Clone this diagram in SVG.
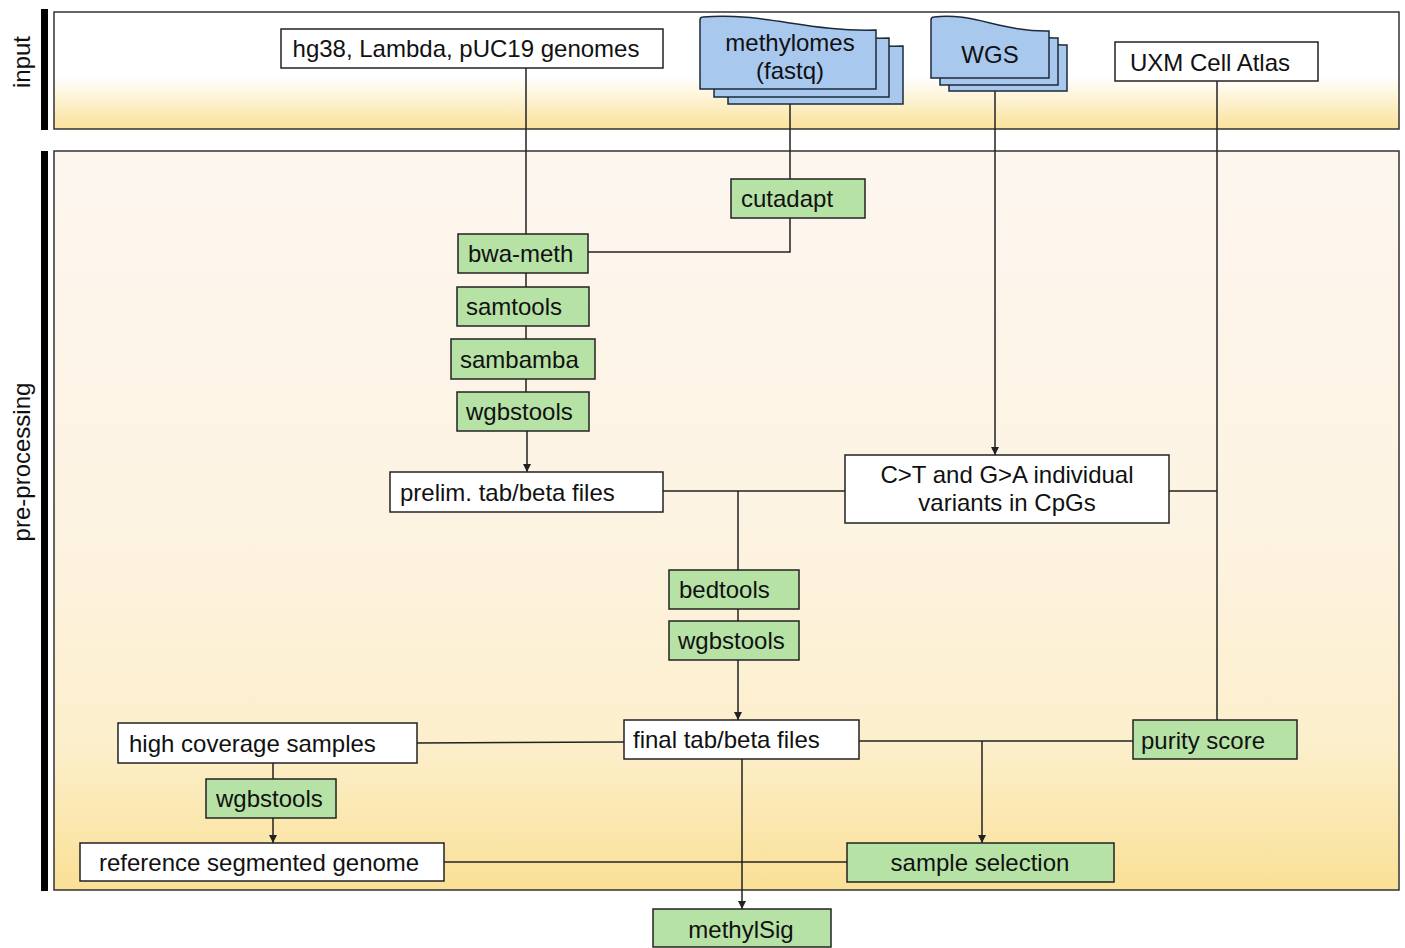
<svg xmlns="http://www.w3.org/2000/svg" width="1405" height="948" viewBox="0 0 1405 948">
<defs>
<linearGradient id="gIn" x1="0" y1="0" x2="0" y2="1">
<stop offset="0" stop-color="#FFFFFF"/>
<stop offset="0.55" stop-color="#FFFFFF"/>
<stop offset="1" stop-color="#FAE29A"/>
</linearGradient>
<linearGradient id="gPre" x1="0" y1="0" x2="0" y2="1">
<stop offset="0" stop-color="#FDF6EF"/>
<stop offset="0.5" stop-color="#FDF3E2"/>
<stop offset="0.8" stop-color="#FCEFCC"/>
<stop offset="1" stop-color="#FAE096"/>
</linearGradient>
<marker id="arr" viewBox="0 0 10 10" refX="10" refY="5" markerWidth="8" markerHeight="8" markerUnits="userSpaceOnUse" orient="auto">
<path d="M0,0 L10,5 L0,10 Z" fill="#222"/>
</marker>
<style>
.band{stroke:#333;stroke-width:1.5}
.bar{fill:#000}
.white{fill:#FFFFFF;stroke:#222;stroke-width:1.5}
.green{fill:#B6E2A6;stroke:#222;stroke-width:1.5}
.doc{fill:#A8C8EE;stroke:#1C2A3A;stroke-width:1.5}
.t{font-family:"Liberation Sans",Arial,sans-serif;font-size:24px;fill:#111}
.c{text-anchor:middle}
.e{fill:none;stroke:#222;stroke-width:1.5}
</style>
</defs>

<g id="bands">
<rect class="band" x="54" y="12" width="1345" height="117" fill="url(#gIn)"/>
<rect class="band" x="54" y="151" width="1345" height="739" fill="url(#gPre)"/>
<rect class="bar" x="41" y="9" width="7" height="121"/>
<rect class="bar" x="41" y="151" width="7" height="740"/>
<text class="t c" transform="translate(30,62) rotate(-90)">input</text>
<text class="t c" transform="translate(30,462) rotate(-90)">pre-processing</text>
</g>

<g id="connectors">
<path class="e" d="M526,68 V234"/>
<path class="e" d="M790,104 V179"/>
<path class="e" d="M790,218 V252 H588"/>
<path class="e" d="M526,273 V287"/>
<path class="e" d="M526,326 V339"/>
<path class="e" d="M526,379 V392"/>
<path class="e" d="M527,431 V472" marker-end="url(#arr)"/>
<path class="e" d="M995,91 V455" marker-end="url(#arr)"/>
<path class="e" d="M1217,81 V720"/>
<path class="e" d="M1169,491 H1217"/>
<path class="e" d="M663,491 H845"/>
<path class="e" d="M738,491 V570"/>
<path class="e" d="M738,609 V621"/>
<path class="e" d="M738,660 V720" marker-end="url(#arr)"/>
<path class="e" d="M624,742 L417,743"/>
<path class="e" d="M273,763 V779"/>
<path class="e" d="M273,818 V843" marker-end="url(#arr)"/>
<path class="e" d="M444,862 H847"/>
<path class="e" d="M859,741 H1133"/>
<path class="e" d="M982,741 V843" marker-end="url(#arr)"/>
<path class="e" d="M742,759 V909" marker-end="url(#arr)"/>
</g>

<g id="n-genomes">
<rect class="white" x="281" y="29" width="382" height="39"/>
<text class="t c" x="466" y="57">hg38, Lambda, pUC19 genomes</text>
</g>

<g id="n-methylomes">
<path class="doc" d="M728,104 V36 Q728,33 731,33 C790,28 835,48 903,46 V104 Z"/>
<path class="doc" d="M714,97 V28 Q714,25 717,25 C776,20 821,40 889,38 V97 Z"/>
<path class="doc" d="M700,89 V20 Q700,17 703,17 C762,12 807,32 876,30 V89 Z"/>
<text class="t c" x="790" y="51">methylomes</text>
<text class="t c" x="790" y="79">(fastq)</text>
</g>

<g id="n-wgs">
<path class="doc" d="M949,91 V34 Q949,31 952,31 C990,26 1020,46 1067,45 V91 Z"/>
<path class="doc" d="M940,85 V27 Q940,24 943,24 C981,19 1011,39 1058,38 V85 Z"/>
<path class="doc" d="M931,78 V20 Q931,17 934,17 C972,12 1002,32 1049,31 V78 Z"/>
<text class="t c" x="990" y="63">WGS</text>
</g>

<g id="n-uxm">
<rect class="white" x="1115" y="42" width="203" height="39"/>
<text class="t c" x="1210" y="71">UXM Cell Atlas</text>
</g>

<g id="n-cutadapt">
<rect class="green" x="731" y="179" width="134" height="39"/>
<text class="t" x="741" y="207">cutadapt</text>
</g>

<g id="n-bwameth">
<rect class="green" x="458" y="234" width="130" height="39"/>
<text class="t" x="468" y="262">bwa-meth</text>
</g>

<g id="n-samtools">
<rect class="green" x="457" y="287" width="132" height="39"/>
<text class="t" x="466" y="315">samtools</text>
</g>

<g id="n-sambamba">
<rect class="green" x="451" y="339" width="144" height="40"/>
<text class="t" x="460" y="368">sambamba</text>
</g>

<g id="n-wgbstools1">
<rect class="green" x="457" y="392" width="132" height="39"/>
<text class="t" x="466" y="420">wgbstools</text>
</g>

<g id="n-prelim">
<rect class="white" x="390" y="472" width="273" height="40"/>
<text class="t" x="400" y="501">prelim. tab/beta files</text>
</g>

<g id="n-variants">
<rect class="white" x="845" y="455" width="324" height="68"/>
<text class="t c" x="1007" y="483">C&gt;T and G&gt;A individual</text>
<text class="t c" x="1007" y="511">variants in CpGs</text>
</g>

<g id="n-bedtools">
<rect class="green" x="669" y="570" width="130" height="39"/>
<text class="t" x="679" y="598">bedtools</text>
</g>

<g id="n-wgbstools2">
<rect class="green" x="669" y="621" width="130" height="39"/>
<text class="t" x="678" y="649">wgbstools</text>
</g>

<g id="n-final">
<rect class="white" x="624" y="720" width="235" height="39"/>
<text class="t" x="633" y="748">final tab/beta files</text>
</g>

<g id="n-purity">
<rect class="green" x="1133" y="720" width="164" height="39"/>
<text class="t" x="1141" y="749">purity score</text>
</g>

<g id="n-highcov">
<rect class="white" x="118" y="723" width="299" height="40"/>
<text class="t" x="129" y="752">high coverage samples</text>
</g>

<g id="n-wgbstools3">
<rect class="green" x="206" y="779" width="130" height="39"/>
<text class="t" x="216" y="807">wgbstools</text>
</g>

<g id="n-refgenome">
<rect class="white" x="80" y="843" width="364" height="38"/>
<text class="t" x="99" y="871">reference segmented genome</text>
</g>

<g id="n-selection">
<rect class="green" x="847" y="843" width="267" height="39"/>
<text class="t c" x="980" y="871">sample selection</text>
</g>

<g id="n-methylsig">
<rect class="green" x="653" y="909" width="178" height="38"/>
<text class="t c" x="741" y="938">methylSig</text>
</g>
</svg>
